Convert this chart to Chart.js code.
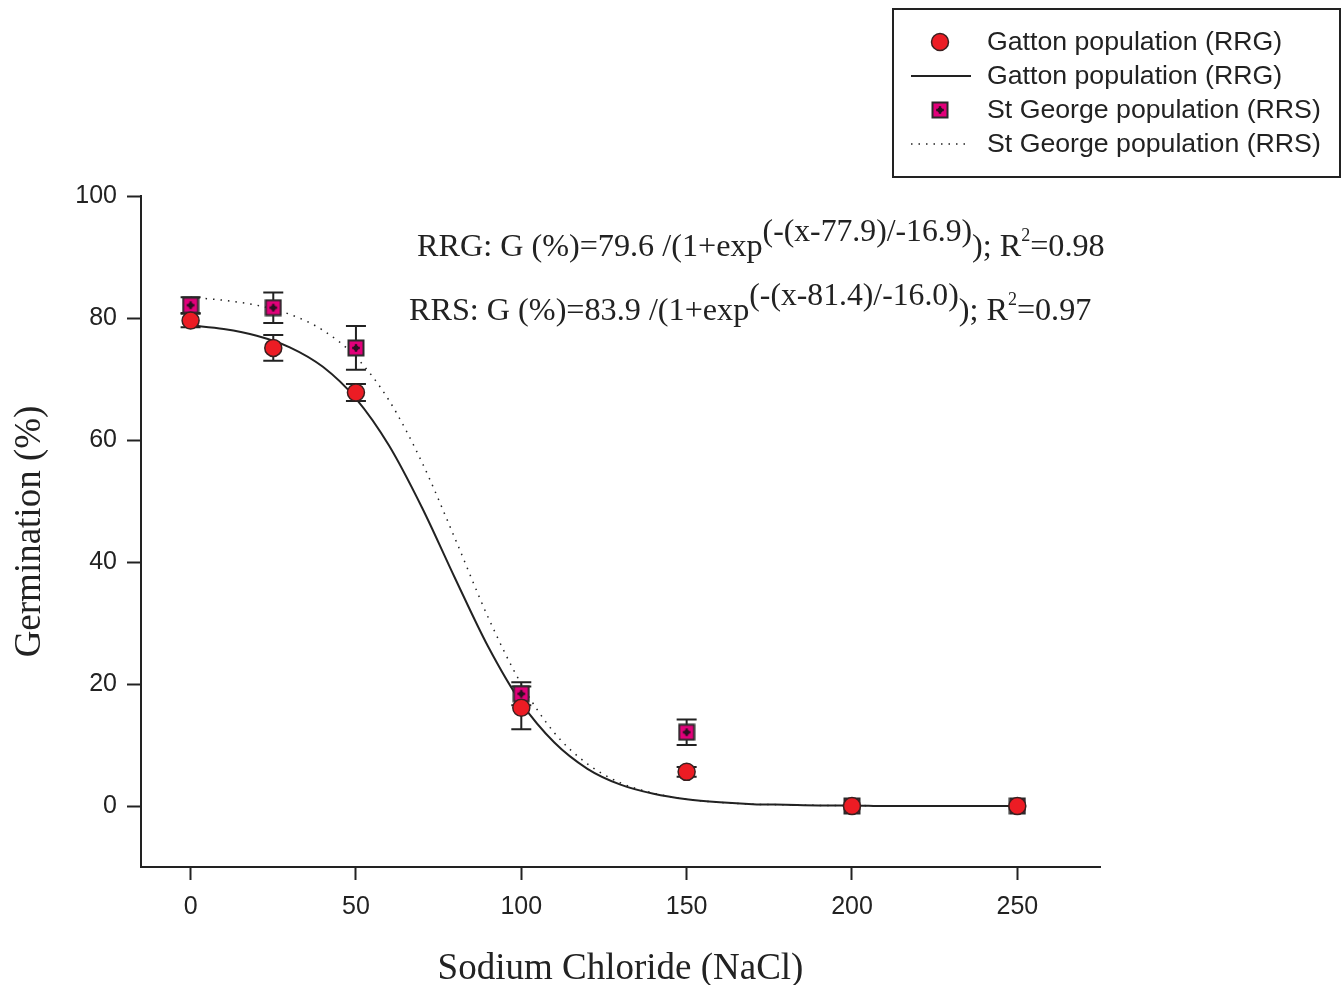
<!DOCTYPE html>
<html><head><meta charset="utf-8">
<script src="https://cdn.jsdelivr.net/npm/chart.js@4/dist/chart.umd.min.js"></script>
<style>html,body{margin:0;padding:0;background:#fff;}#wrap{width:1343px;height:985px;position:relative;}</style>
</head><body><div id="wrap"><canvas id="c" width="1343" height="985"></canvas></div>
<script>
// ---- data ----
const naclLevels = [0, 25, 50, 100, 150, 200, 250];
const gattonMean = [79.6, 75.1, 67.8, 16.1, 5.6, 0, 0];
const gattonErr  = [1.1, 2.1, 1.4, 3.5, 0.8, 0, 0];
const stgeorgeMean = [82.1, 81.7, 75.1, 18.4, 12.1, 0, 0];
const stgeorgeErr  = [1.3, 2.5, 3.6, 1.9, 2.1, 0, 0];
const curveX = [0,10,20,30,40,50,60,70,80,90,100,110,120,130,140,150,160,170,180,190,200,210,220,230,240,250];
const gattonFit = [78.8,78.2,77.1,75.2,72.0,66.8,59.1,48.9,37.3,26.1,16.9,10.4,6.1,3.5,2.0,1.1,0.6,0.3,0.2,0.1,0.1,0,0,0,0,0];
const stgeorgeFit = [83.4,82.9,82.1,80.6,78.0,73.6,66.5,56.3,43.8,30.9,20.0,12.0,6.9,3.8,2.1,1.1,0.6,0.3,0.2,0.1,0.1,0,0,0,0,0];
const xTickValues = [0, 50, 100, 150, 200, 250];
const yTickValues = [0, 20, 40, 60, 80, 100];
const legendLabels = ['Gatton population (RRG)', 'Gatton population (RRG)', 'St George population (RRS)', 'St George population (RRS)'];
const eqRRG = [['RRG: G (%)=79.6 /(1+exp', 'main'], ['(-(x-77.9)/-16.9)', 'sup'], ['); R', 'main'], ['2', 'sup2'], ['=0.98', 'main']];
const eqRRS = [['RRS: G (%)=83.9 /(1+exp', 'main'], ['(-(x-81.4)/-16.0)', 'sup'], ['); R', 'main'], ['2', 'sup2'], ['=0.97', 'main']];

const RED = '#ec1c24', MAG = '#e2007a', DARK = '#222222';
const SANS = '"Liberation Sans", Arial, sans-serif';
const SERIF = '"Liberation Serif", "Times New Roman", serif';

function makeSquare() {
  const c = document.createElement('canvas'); c.width = 18; c.height = 18;
  const g = c.getContext('2d');
  g.fillStyle = MAG; g.fillRect(1, 1, 16, 16);
  g.strokeStyle = '#2a2a2a'; g.lineWidth = 2; g.strokeRect(1.5, 1.5, 15, 15);
  g.fillStyle = '#2a1020';
  g.beginPath(); g.arc(9, 9, 2.6, 0, Math.PI * 2); g.fill();
  g.fillRect(7.8, 5.2, 2.4, 7.6); g.fillRect(5.2, 7.8, 7.6, 2.4);
  return c;
}
const squareImg = makeSquare();

const errorBars = {
  id: 'errorBars',
  beforeDatasetsDraw(chart) {
    const { ctx, scales: { x, y } } = chart;
    ctx.save();
    ctx.strokeStyle = DARK; ctx.lineWidth = 2;
    const sets = [[stgeorgeMean, stgeorgeErr], [gattonMean, gattonErr]];
    sets.forEach(([m, e]) => {
      naclLevels.forEach((xv, i) => {
        if (!e[i]) return;
        const px = x.getPixelForValue(xv);
        const top = y.getPixelForValue(m[i] + e[i]);
        const bot = y.getPixelForValue(m[i] - e[i]);
        ctx.beginPath();
        ctx.moveTo(px, top); ctx.lineTo(px, bot);
        ctx.moveTo(px - 10, top); ctx.lineTo(px + 10, top);
        ctx.moveTo(px - 10, bot); ctx.lineTo(px + 10, bot);
        ctx.stroke();
      });
    });
    ctx.restore();
  }
};

const annotations = {
  id: 'annotations',
  afterDraw(chart) {
    const ctx = chart.ctx;
    ctx.save();
    // equations
    const drawEq = (parts, x0, base) => {
      let x = x0;
      parts.forEach(([t, k]) => {
        let size = 32.2, dy = 0;
        if (k === 'sup') { size = 31.7; dy = -15; }
        if (k === 'sup2') { size = 18; dy = -15; }
        ctx.font = size + 'px ' + SERIF;
        ctx.fillStyle = DARK; ctx.textBaseline = 'alphabetic'; ctx.textAlign = 'left';
        ctx.fillText(t, x, base + dy);
        x += ctx.measureText(t).width;
      });
    };
    drawEq(eqRRG, 417, 256);
    drawEq(eqRRS, 409, 320);
    // legend
    ctx.strokeStyle = DARK; ctx.lineWidth = 2;
    ctx.strokeRect(893, 9, 447, 168);
    const rows = [42, 76, 110, 144];
    ctx.beginPath(); ctx.arc(940, rows[0], 8.5, 0, Math.PI * 2);
    ctx.fillStyle = RED; ctx.fill(); ctx.lineWidth = 1.5; ctx.strokeStyle = '#3a2020'; ctx.stroke();
    ctx.beginPath(); ctx.lineWidth = 2; ctx.strokeStyle = DARK;
    ctx.moveTo(911, rows[1]); ctx.lineTo(971, rows[1]); ctx.stroke();
    ctx.drawImage(squareImg, 931, rows[2] - 9);
    ctx.beginPath(); ctx.lineWidth = 1.5; ctx.setLineDash([1.5, 6]);
    ctx.moveTo(911, rows[3]); ctx.lineTo(971, rows[3]); ctx.stroke(); ctx.setLineDash([]);
    ctx.font = '26.7px ' + SANS; ctx.fillStyle = DARK; ctx.textBaseline = 'middle'; ctx.textAlign = 'left';
    legendLabels.forEach((t, i) => ctx.fillText(t, 987, rows[i] + 1));
    ctx.restore();
  }
};

new Chart(document.getElementById('c'), {
  type: 'scatter',
  data: {
    datasets: [
      { label: legendLabels[0], data: naclLevels.map((x, i) => ({ x, y: gattonMean[i] })), order: 0,
        pointStyle: 'circle', pointRadius: 8.5, pointBackgroundColor: RED, pointBorderColor: '#3a2020', pointBorderWidth: 1.5, showLine: false },
      { label: legendLabels[2], data: naclLevels.map((x, i) => ({ x, y: stgeorgeMean[i] })), order: 1,
        pointStyle: squareImg, pointRadius: 9, showLine: false },
      { label: legendLabels[1], data: curveX.map((x, i) => ({ x, y: gattonFit[i] })), order: 2,
        showLine: true, pointRadius: 0, borderColor: DARK, borderWidth: 2, cubicInterpolationMode: 'monotone', fill: false },
      { label: legendLabels[3], data: curveX.map((x, i) => ({ x, y: stgeorgeFit[i] })), order: 3,
        showLine: true, pointRadius: 0, borderColor: DARK, borderWidth: 1.5, borderDash: [1.5, 6], cubicInterpolationMode: 'monotone', fill: false }
    ]
  },
  options: {
    responsive: false, animation: false, devicePixelRatio: 1,
    layout: { padding: { left: 0, top: 196, right: 243, bottom: 0 } },
    plugins: { legend: { display: false }, tooltip: { enabled: false } },
    scales: {
      x: {
        type: 'linear', min: -15, max: 275,
        afterBuildTicks: s => { s.ticks = xTickValues.map(v => ({ value: v })); },
        afterFit: s => { s.height = 118; },
        ticks: { color: DARK, font: { family: SANS, size: 25 }, padding: 12 },
        grid: { drawOnChartArea: false, drawTicks: true, tickLength: 13, tickWidth: 2, tickColor: DARK },
        border: { display: true, color: DARK, width: 2 },
        title: { display: true, text: 'Sodium Chloride (NaCl)', color: DARK, font: { family: SERIF, size: 37, lineHeight: 0.85 }, padding: { top: 0, bottom: 0 } }
      },
      y: {
        type: 'linear', min: -10, max: 100,
        afterBuildTicks: s => { s.ticks = yTickValues.map(v => ({ value: v })); },
        afterFit: s => { s.width = 141; },
        ticks: { color: DARK, font: { family: SANS, size: 25 }, padding: 10 },
        grid: { drawOnChartArea: false, drawTicks: true, tickLength: 14, tickWidth: 2, tickColor: DARK },
        border: { display: true, color: DARK, width: 2 },
        title: { display: true, text: 'Germination (%)', color: DARK, font: { family: SERIF, size: 37 }, padding: { top: 8, bottom: 0 } }
      }
    }
  },
  plugins: [errorBars, annotations]
});
</script></body></html>
